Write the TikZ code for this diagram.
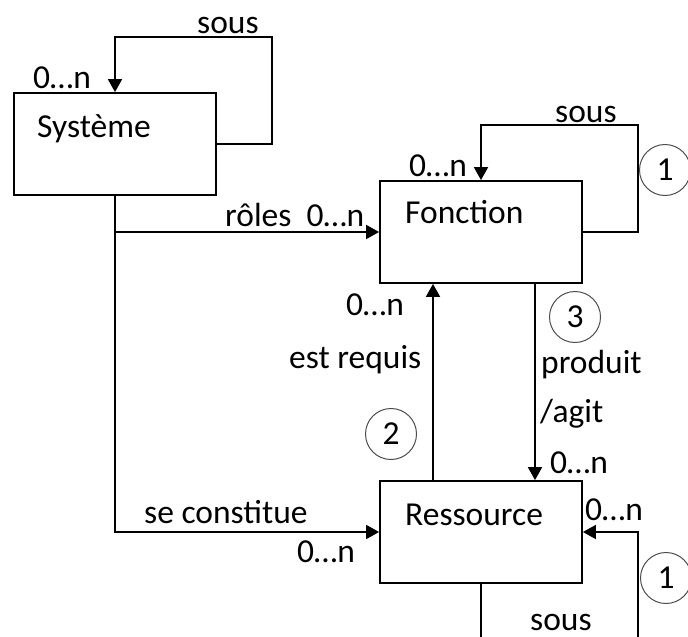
\documentclass[tikz,border=0pt]{standalone}
\usepackage{fontspec}
\setmainfont{Carlito}
\usetikzlibrary{arrows.meta}
\begin{document}
\begin{tikzpicture}[x=1pt,y=-1pt,
  every node/.style={font=\fontsize{33.5}{40}\selectfont},
  box/.style={draw, line width=1.8pt, minimum width=202pt, minimum height=102pt, inner sep=0pt},
  lbl/.style={inner sep=0pt, anchor=base west},
  arr/.style={line width=1.8pt, -{Triangle[length=13pt,width=14pt]}},
  num/.style={circle, draw=black!70, line width=1pt, minimum size=51pt, inner sep=0pt}]
\useasboundingbox (0,0) rectangle (688,637);
\clip (0,0) rectangle (688,637);
% boxes
\node[box] (sys) at (115,144) {};
\node[box] (fon) at (481,232) {};
\node[box] (res) at (481,532) {};
\node[lbl] (tsys) at (37,137) {Système};
\node[lbl] (tfon) at (405,223) {Fonction};
\node[lbl] (tres) at (405,525) {Ressource};
% loop coordinates
\coordinate (s1) at (272,37);
\coordinate (f1) at (638,125);
\coordinate (r1) at (638,660);
% connectors
\draw[arr] (sys.east) -| (s1) -| (sys.north);
\draw[arr] (fon.east) -| (f1) -| (fon.north);
\draw[arr] (res.south) |- (r1) |- (res.east);
\draw[arr] (sys.south) |- (res.west);
\draw[arr] (sys.south |- fon.west) -- (fon.west);
\draw[arr] ([xshift=-48pt]res.north) -- ([xshift=-48pt]fon.south);
\draw[arr] ([xshift=54pt]fon.south) -- ([xshift=54pt]res.north);
% labels
\node[lbl] (l1) at (197,33) {sous};
\node[lbl] (l2) at (33,88) {0…n};
\node[lbl] (l3) at (225,226) {rôles\ \ 0…n};
\node[lbl] (l4) at (555,122) {sous};
\node[lbl] (l5) at (409,176) {0…n};
\node[lbl] (l6) at (346,315) {0…n};
\node[lbl] (l7) at (289,368) {est requis};
\node[lbl] (l8) at (541,373) {produit};
\node[lbl] (l9) at (540,422) {/agit};
\node[lbl] (l10) at (550,473) {0…n};
\node[lbl] (l11) at (585,520) {0…n};
\node[lbl] (l12) at (144,523) {se constitue};
\node[lbl] (l13) at (297,562) {0…n};
\node[lbl] (l14) at (530,630) {sous};
% numbered circles
\node[num] (c1) at (665,170) {1};
\node[num] (c3) at (575,317) {3};
\node[num] (c2) at (391,434) {2};
\node[num] (c4) at (666,578) {1};
\end{tikzpicture}
\end{document}
